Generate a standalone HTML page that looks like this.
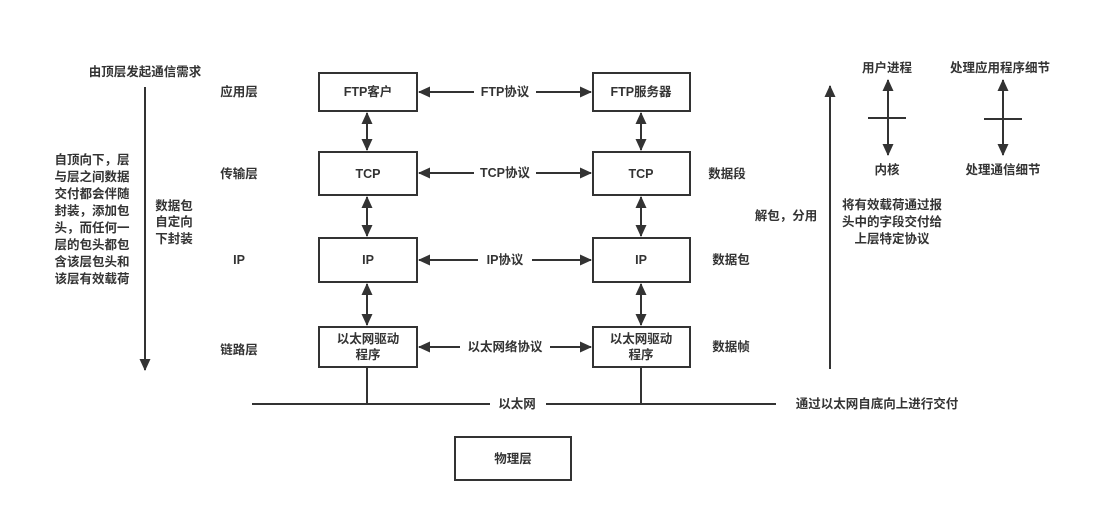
<!DOCTYPE html>
<html><head><meta charset="utf-8"><style>
body{margin:0;background:#fff}
svg text{font-family:"Liberation Sans","Noto Sans CJK SC",sans-serif;font-size:12.5px;font-weight:bold;fill:#333}
</style></head><body>
<svg width="1116" height="511" viewBox="0 0 1116 511" xmlns="http://www.w3.org/2000/svg">
<defs>
<marker id="a" markerWidth="12" markerHeight="11" refX="11" refY="5.5" orient="auto-start-reverse" markerUnits="userSpaceOnUse"><path d="M0,0 L12,5.5 L0,11 Z" fill="#333"/></marker>
</defs>
<g stroke="#333" stroke-width="2" fill="#fff">
<rect x="319" y="73" width="98" height="38"/><rect x="593" y="73" width="97" height="38"/>
<rect x="319" y="152" width="98" height="43"/><rect x="593" y="152" width="97" height="43"/>
<rect x="319" y="238" width="98" height="44"/><rect x="593" y="238" width="97" height="44"/>
<rect x="319" y="327" width="98" height="40"/><rect x="593" y="327" width="97" height="40"/>
<rect x="455" y="437" width="116" height="43"/>
</g>
<g stroke="#333" stroke-width="2" fill="none">
<line x1="419" y1="92" x2="591" y2="92" marker-start="url(#a)" marker-end="url(#a)"/>
<line x1="419" y1="173" x2="591" y2="173" marker-start="url(#a)" marker-end="url(#a)"/>
<line x1="419" y1="260" x2="591" y2="260" marker-start="url(#a)" marker-end="url(#a)"/>
<line x1="419" y1="347" x2="591" y2="347" marker-start="url(#a)" marker-end="url(#a)"/>
<line x1="367" y1="113" x2="367" y2="150" marker-start="url(#a)" marker-end="url(#a)"/>
<line x1="367" y1="197" x2="367" y2="236" marker-start="url(#a)" marker-end="url(#a)"/>
<line x1="367" y1="284" x2="367" y2="325" marker-start="url(#a)" marker-end="url(#a)"/>
<line x1="641" y1="113" x2="641" y2="150" marker-start="url(#a)" marker-end="url(#a)"/>
<line x1="641" y1="197" x2="641" y2="236" marker-start="url(#a)" marker-end="url(#a)"/>
<line x1="641" y1="284" x2="641" y2="325" marker-start="url(#a)" marker-end="url(#a)"/>
<line x1="367" y1="367" x2="367" y2="404"/><line x1="641" y1="367" x2="641" y2="404"/>
<line x1="252" y1="404" x2="776" y2="404"/>
<line x1="145" y1="87" x2="145" y2="370" marker-end="url(#a)"/>
<line x1="830" y1="369" x2="830" y2="86" marker-end="url(#a)"/>
<line x1="888" y1="80" x2="888" y2="155" marker-start="url(#a)" marker-end="url(#a)"/>
<line x1="868" y1="118" x2="906" y2="118"/>
<line x1="1003" y1="80" x2="1003" y2="155" marker-start="url(#a)" marker-end="url(#a)"/>
<line x1="984" y1="119" x2="1022" y2="119"/>
</g>
<g fill="#fff"><rect x="474" y="84" width="62" height="16"/><rect x="474" y="165" width="62" height="16"/><rect x="478" y="252" width="54" height="16"/><rect x="460" y="339" width="90" height="16"/><rect x="490" y="396" width="56" height="16"/></g>
<g text-anchor="middle">
<text x="368" y="96">FTP客户</text><text x="641" y="96">FTP服务器</text>
<text x="368" y="178">TCP</text><text x="641" y="178">TCP</text>
<text x="368" y="264">IP</text><text x="641" y="264">IP</text>
<text x="368" y="343">以太网驱动</text><text x="368" y="359">程序</text>
<text x="641" y="343">以太网驱动</text><text x="641" y="359">程序</text>
<text x="505" y="96">FTP协议</text><text x="505" y="177">TCP协议</text><text x="505" y="264">IP协议</text><text x="505" y="351">以太网络协议</text>
<text x="517" y="408">以太网</text><text x="513" y="463">物理层</text>
<text x="145" y="76">由顶层发起通信需求</text>
<text x="239" y="96">应用层</text><text x="239" y="178">传输层</text><text x="239" y="264">IP</text><text x="239" y="354">链路层</text>
<text x="727" y="178">数据段</text><text x="731" y="264">数据包</text><text x="731" y="351">数据帧</text>
<text x="877" y="408">通过以太网自底向上进行交付</text>
<text x="887" y="72">用户进程</text><text x="887" y="174">内核</text>
<text x="1000" y="72">处理应用程序细节</text><text x="1003" y="174">处理通信细节</text>
<text x="786" y="220">解包，分用</text>
<text x="892" y="209">将有效载荷通过报</text><text x="892" y="226">头中的字段交付给</text><text x="892" y="243">上层特定协议</text>
<text x="174" y="210">数据包</text><text x="174" y="226">自定向</text><text x="174" y="243">下封装</text>
<text x="92" y="164">自顶向下，层</text><text x="92" y="181">与层之间数据</text><text x="92" y="198">交付都会伴随</text><text x="92" y="215">封装，添加包</text><text x="92" y="232">头，而任何一</text><text x="92" y="249">层的包头都包</text><text x="92" y="266">含该层包头和</text><text x="92" y="283">该层有效载荷</text>
</g>
</svg>
</body></html>
